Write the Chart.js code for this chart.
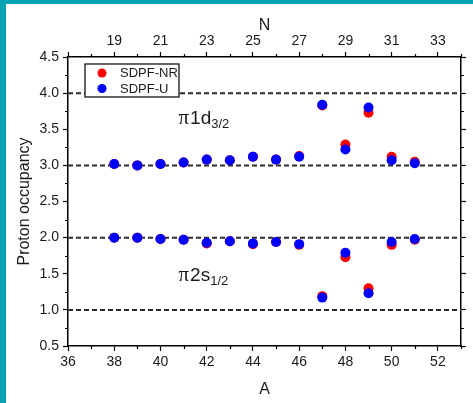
<!DOCTYPE html>
<html>
<head>
<meta charset="utf-8">
<script src="https://cdn.jsdelivr.net/npm/chart.js@4/dist/chart.umd.min.js"></script>
<style>
  html, body { margin: 0; padding: 0; background: #06a3b5; }
  #wrap { position: absolute; left: 6px; top: 4px; width: 467px; height: 399px; background: #fff; }
  canvas { display: block; }
</style>
</head>
<body>
<div id="wrap"><canvas id="chart" width="467" height="399"></canvas></div>
<script>
// ---------------------------------------------------------------------------
// Data
// ---------------------------------------------------------------------------
const massNumbers = [38, 39, 40, 41, 42, 43, 44, 45, 46, 47, 48, 49, 50, 51];

// pi 1d3/2 occupancy
const nrD32 = [3.02, 3.00, 3.02, 3.04, 3.08, 3.07, 3.12, 3.08, 3.13, 3.83, 3.29, 3.73, 3.12, 3.05];
const uD32  = [3.02, 3.00, 3.02, 3.04, 3.08, 3.07, 3.12, 3.08, 3.12, 3.84, 3.22, 3.80, 3.07, 3.03];

// pi 2s1/2 occupancy
const nrS12 = [2.00, 2.00, 1.98, 1.97, 1.92, 1.95, 1.91, 1.94, 1.90, 1.19, 1.73, 1.30, 1.90, 1.97];
const uS12  = [2.00, 2.00, 1.98, 1.97, 1.93, 1.95, 1.92, 1.94, 1.91, 1.17, 1.79, 1.23, 1.94, 1.98];

const referenceLevels = [1, 2, 3, 4];
const seriesNames = ['SDPF-NR', 'SDPF-U'];
const seriesColors = ['#ff0000', '#0000ff'];

const aRange = [36, 53];
const nOffset = 19;          // N = A - 19
const yRange = [0.5, 4.5];

const FONT = "'Liberation Sans', Arial, sans-serif";
const TEXT = '#1a1a1a';

// ---------------------------------------------------------------------------
// Helpers
// ---------------------------------------------------------------------------
function toPoints(xs, ys) {
    return xs.map((x, i) => ({ x, y: ys[i] }));
}

// major ticks are drawn by Chart.js, minor ones by the decor plugin (shorter)
const isMajor = {
    x: v => v % 2 === 0,
    x2: v => v % 2 === 1,
    y: v => Math.abs(v * 2 - Math.round(v * 2)) < 1e-6,
    y2: v => Math.abs(v * 2 - Math.round(v * 2)) < 1e-6,
};

function tickGrid(axisId) {
    return {
        drawOnChartArea: false,
        drawTicks: true,
        tickLength: 5,
        tickWidth: 1.2,
        color: '#000',
        tickColor: c => (c.tick && isMajor[axisId](c.tick.value)) ? '#000' : 'rgba(0,0,0,0)',
    };
}
const axisBorder = { display: true, color: '#000', width: 1.5 };

// Reference dashed lines as line datasets
const levelDatasets = referenceLevels.map(v => ({
    type: 'line',
    data: [{ x: aRange[0], y: v }, { x: aRange[1], y: v }],
    borderColor: '#2b2b2b',
    borderWidth: 2,
    borderDash: [5, 3],
    pointRadius: 0,
    fill: false,
    order: 3,
}));

// ---------------------------------------------------------------------------
// Legend box, orbital labels, minor ticks
// ---------------------------------------------------------------------------
const orbitalLabels = [
    { x: 40.78, y: 3.57, n: '1d', sub: '3/2' },
    { x: 40.78, y: 1.40, n: '2s', sub: '1/2' },
];

function drawMinorTicks(ctx, chart) {
    const area = chart.chartArea;
    ctx.strokeStyle = '#000';
    ctx.lineWidth = 1.2;
    ctx.beginPath();
    ['x', 'x2', 'y', 'y2'].forEach(id => {
        const s = chart.scales[id];
        s.ticks.forEach(t => {
            if (isMajor[id](t.value)) return;
            const p = Math.round(s.getPixelForValue(t.value)) + 0.5;
            if (id === 'x') { ctx.moveTo(p, area.bottom); ctx.lineTo(p, area.bottom + 3); }
            if (id === 'x2') { ctx.moveTo(p, area.top); ctx.lineTo(p, area.top - 3); }
            if (id === 'y') { ctx.moveTo(area.left, p); ctx.lineTo(area.left - 3, p); }
            if (id === 'y2') { ctx.moveTo(area.right, p); ctx.lineTo(area.right + 3, p); }
        });
    });
    ctx.stroke();
}

const decorPlugin = {
    id: 'decor',
    afterDatasetsDraw(chart) {
        const ctx = chart.ctx;
        const xs = chart.scales.x;
        const ys = chart.scales.y;
        ctx.save();

        drawMinorTicks(ctx, chart);

        // legend
        const lx = 79, ly = 60, lw = 94, lh = 33;
        ctx.fillStyle = '#fff';
        ctx.fillRect(lx, ly, lw, lh);
        ctx.strokeStyle = '#000';
        ctx.lineWidth = 1.2;
        ctx.strokeRect(lx, ly, lw, lh);
        ctx.font = `13px ${FONT}`;
        ctx.textBaseline = 'middle';
        seriesNames.forEach((name, i) => {
            const cy = ly + 9 + i * 15.5;
            ctx.fillStyle = seriesColors[i];
            ctx.beginPath();
            ctx.arc(lx + 17, cy, 4.5, 0, Math.PI * 2);
            ctx.fill();
            ctx.fillStyle = TEXT;
            ctx.fillText(name, lx + 35, cy + 0.5);
        });

        // orbital labels
        ctx.textBaseline = 'alphabetic';
        orbitalLabels.forEach(o => {
            let px = xs.getPixelForValue(o.x);
            const py = ys.getPixelForValue(o.y);
            ctx.fillStyle = TEXT;
            ctx.font = `21px 'Liberation Serif', 'Times New Roman', serif`;
            ctx.fillText('\u03c0', px, py);
            px += ctx.measureText('\u03c0').width + 1;
            ctx.font = `19px ${FONT}`;
            ctx.fillText(o.n, px, py);
            px += ctx.measureText(o.n).width;
            ctx.font = `13px ${FONT}`;
            ctx.fillText(o.sub, px, py + 4);
        });

        ctx.restore();
    }
};

// ---------------------------------------------------------------------------
// Chart
// ---------------------------------------------------------------------------
const chart = new Chart(document.getElementById('chart'), {
    type: 'scatter',
    data: {
        datasets: [
            {
                label: seriesNames[1],
                data: toPoints(massNumbers, uD32).concat(toPoints(massNumbers, uS12)),
                backgroundColor: seriesColors[1],
                borderWidth: 0,
                pointRadius: 5,
                order: 1,
            },
            {
                label: seriesNames[0],
                data: toPoints(massNumbers, nrD32).concat(toPoints(massNumbers, nrS12)),
                backgroundColor: seriesColors[0],
                borderWidth: 0,
                pointRadius: 5,
                order: 2,
            },
            ...levelDatasets,
        ],
    },
    options: {
        responsive: false,
        animation: false,
        devicePixelRatio: 1,
        layout: { padding: 0 },
        plugins: {
            legend: { display: false },
            tooltip: { enabled: false },
        },
        scales: {
            x: {
                type: 'linear',
                position: 'bottom',
                min: aRange[0],
                max: aRange[1],
                grid: tickGrid('x'),
                border: axisBorder,
                ticks: {
                    stepSize: 1,
                    padding: 3,
                    color: TEXT,
                    font: { family: FONT, size: 14 },
                    maxRotation: 0,
                    autoSkip: false,
                    callback: v => (v % 2 === 0 && v < aRange[1]) ? String(v) : '',
                },
                title: {
                    display: true,
                    text: 'A',
                    color: TEXT,
                    font: { family: FONT, size: 16 },
                    padding: { top: 0, bottom: 4 },
                },
                afterFit: s => { s.height = 57; },
            },
            x2: {
                type: 'linear',
                position: 'top',
                min: aRange[0] - nOffset,
                max: aRange[1] - nOffset,
                grid: tickGrid('x2'),
                border: axisBorder,
                ticks: {
                    stepSize: 1,
                    padding: 2,
                    color: TEXT,
                    font: { family: FONT, size: 14 },
                    maxRotation: 0,
                    autoSkip: false,
                    callback: v => (v % 2 === 1 && v >= 19) ? String(v) : '',
                },
                title: {
                    display: true,
                    text: 'N',
                    color: TEXT,
                    font: { family: FONT, size: 16 },
                    padding: { top: 12, bottom: 0 },
                },
                afterFit: s => { s.height = 53; },
            },
            y: {
                type: 'linear',
                position: 'left',
                min: yRange[0],
                max: yRange[1],
                grid: tickGrid('y'),
                border: axisBorder,
                ticks: {
                    stepSize: 0.25,
                    padding: 4,
                    color: TEXT,
                    font: { family: FONT, size: 14 },
                    autoSkip: false,
                    callback: v => isMajor.y(v) ? v.toFixed(1) : '',
                },
                title: {
                    display: true,
                    text: 'Proton occupancy',
                    color: TEXT,
                    font: { family: FONT, size: 16 },
                    padding: { top: 9, bottom: 0 },
                },
                afterFit: s => { s.width = 62; },
            },
            y2: {
                type: 'linear',
                position: 'right',
                min: yRange[0],
                max: yRange[1],
                grid: tickGrid('y2'),
                border: axisBorder,
                ticks: {
                    stepSize: 0.25,
                    display: false,
                },
                afterFit: s => { s.width = 12; },
            },
        },
    },
    plugins: [decorPlugin],
});
</script>
</body>
</html>
